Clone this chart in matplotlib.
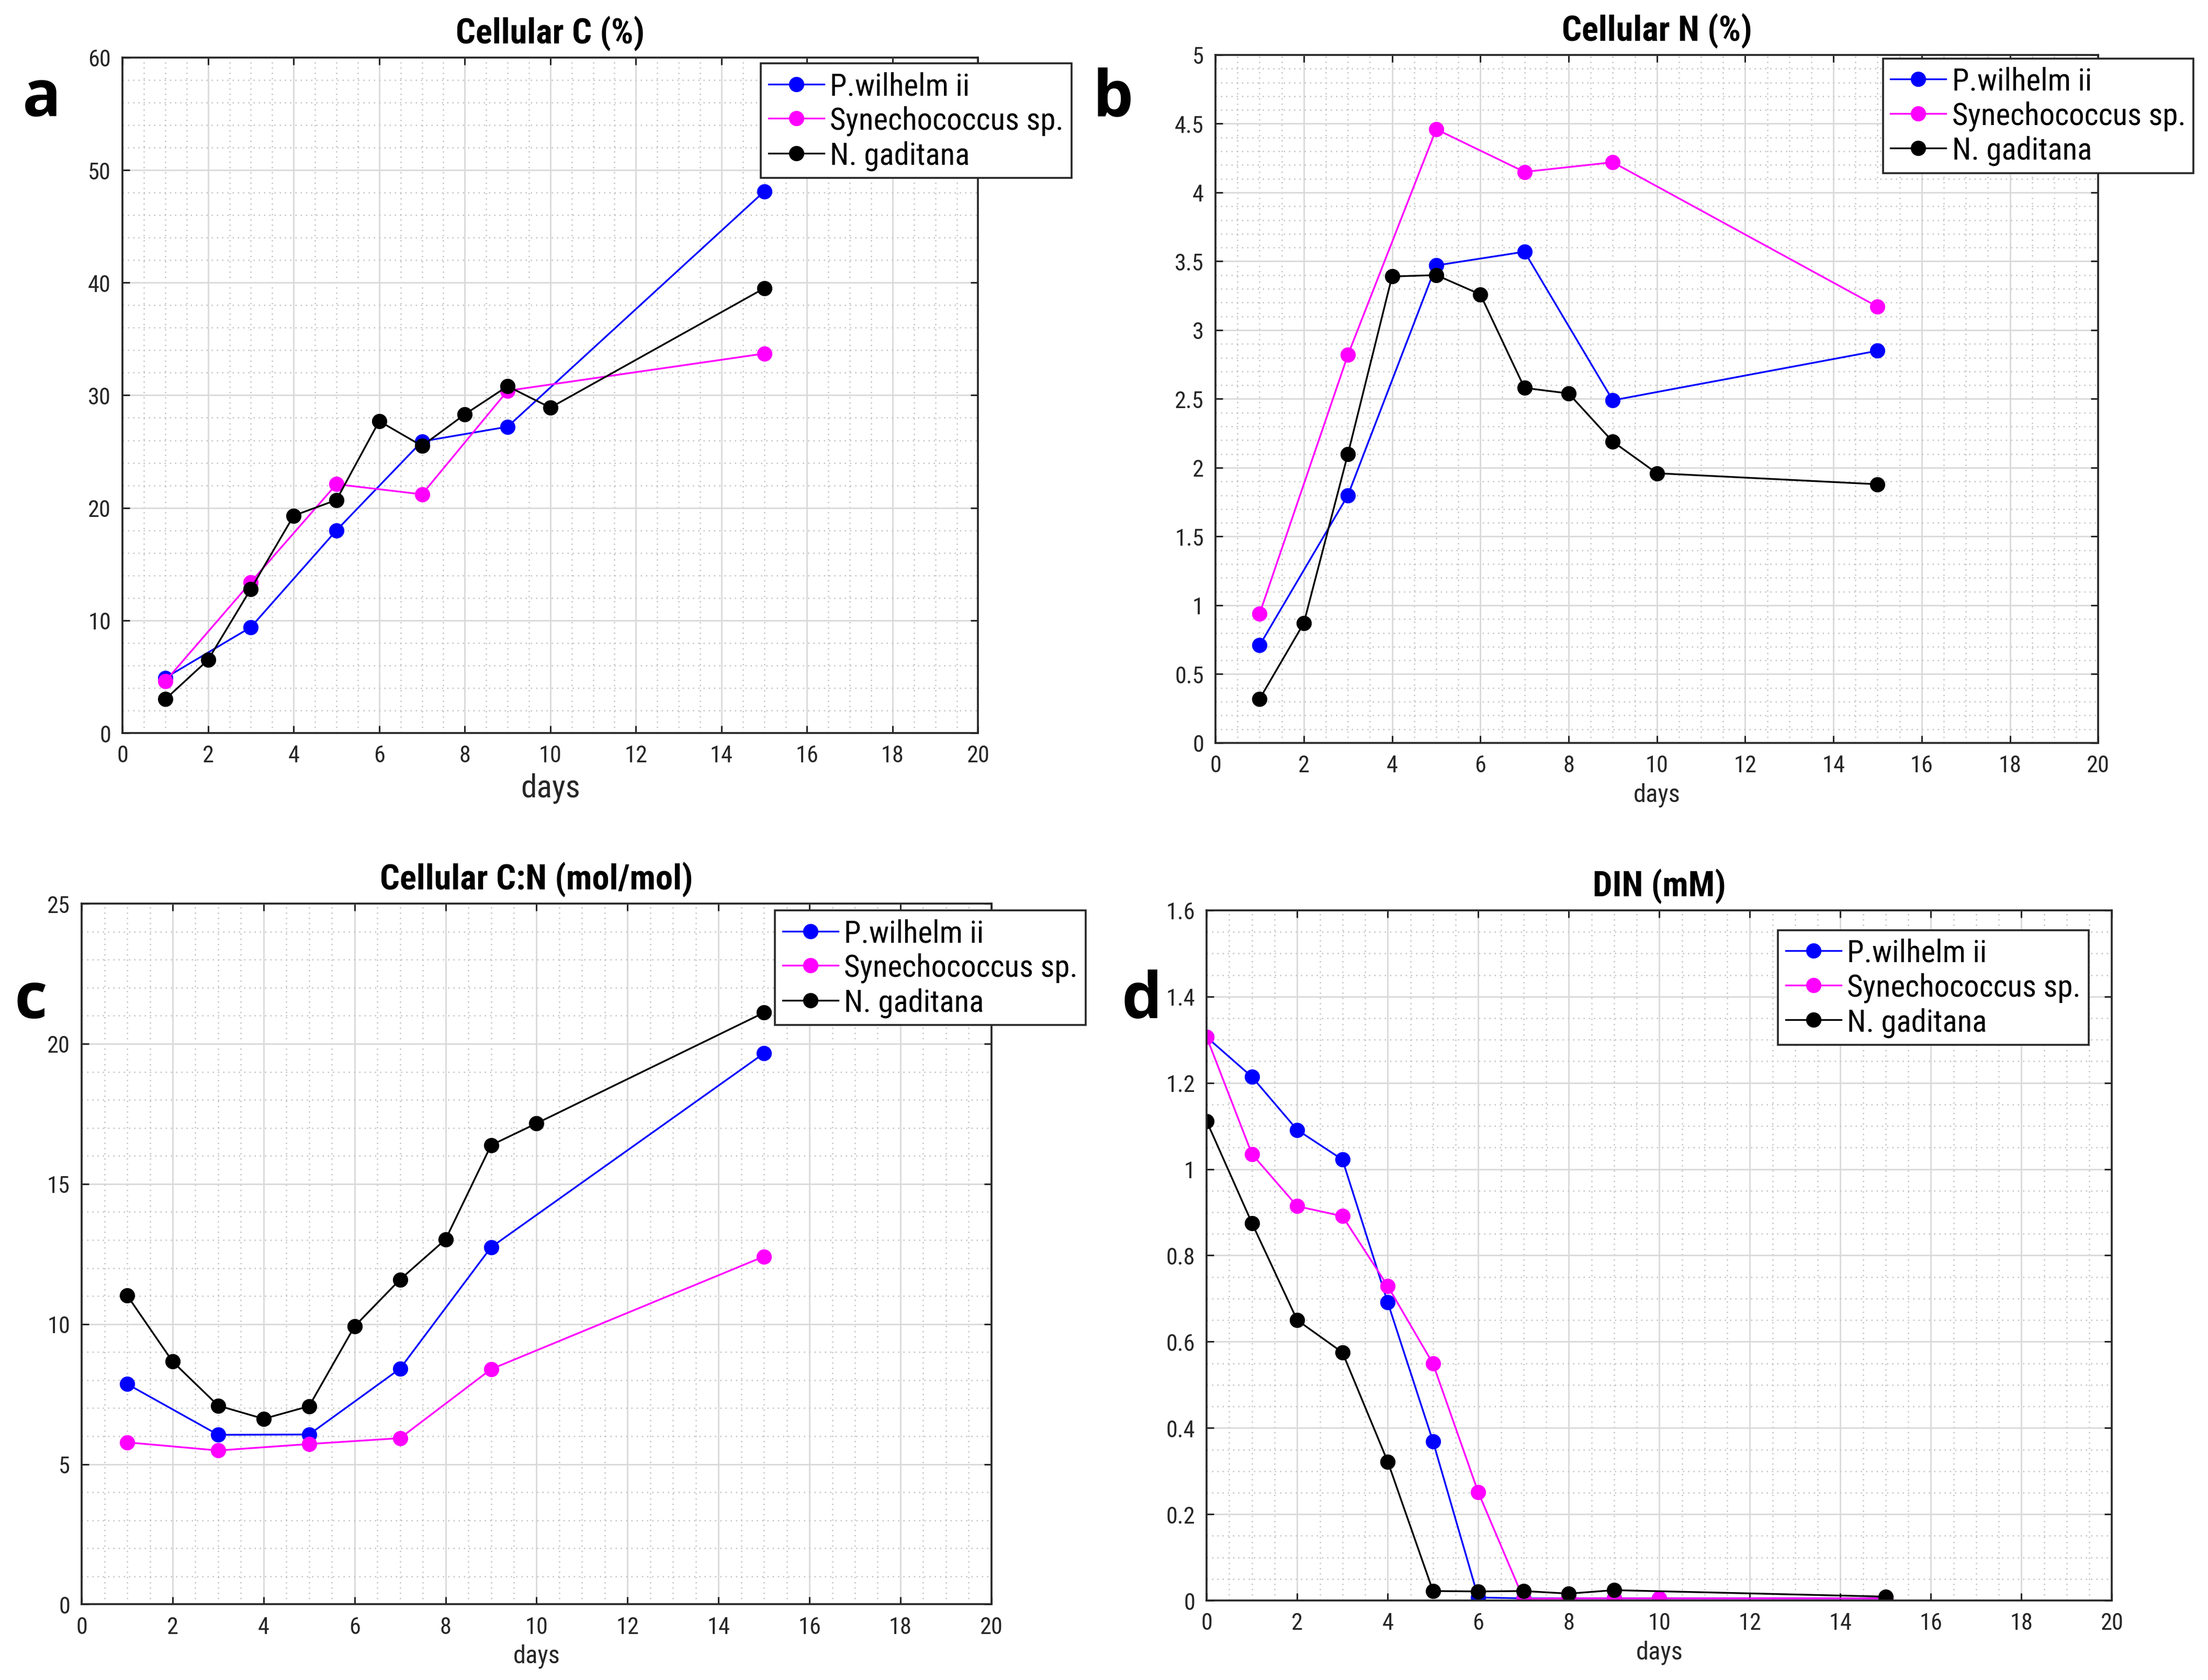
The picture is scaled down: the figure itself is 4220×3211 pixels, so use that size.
#!/usr/bin/env python3
# Four-panel growth chart: cellular C, N, C:N and DIN over days.
import os
import matplotlib
matplotlib.use('Agg')
import matplotlib.pyplot as plt
from matplotlib import font_manager as fm
from matplotlib.textpath import TextPath
from matplotlib.ticker import MultipleLocator

# series names and colours
names = ['P.wilhelm ii', 'Synechococcus sp.', 'N. gaditana']
colors = ['#0000ff', '#ff00ff', '#000000']

# panel a: cellular C (%)
c_days_pw = [1, 3, 5, 7, 9, 15]
c_pw = [4.9, 9.4, 18.0, 25.9, 27.2, 48.1]
c_days_sy = [1, 3, 5, 7, 9, 15]
c_sy = [4.6, 13.4, 22.1, 21.2, 30.4, 33.7]
c_days_ng = [1, 2, 3, 4, 5, 6, 7, 8, 9, 10, 15]
c_ng = [3.0, 6.5, 12.8, 19.3, 20.7, 27.7, 25.5, 28.3, 30.8, 28.9, 39.5]

# panel b: cellular N (%)
n_days_pw = [1, 3, 5, 7, 9, 15]
n_pw = [0.71, 1.80, 3.47, 3.57, 2.49, 2.85]
n_days_sy = [1, 3, 5, 7, 9, 15]
n_sy = [0.94, 2.82, 4.46, 4.15, 4.22, 3.17]
n_days_ng = [1, 2, 3, 4, 5, 6, 7, 8, 9, 10, 15]
n_ng = [0.32, 0.87, 2.10, 3.39, 3.40, 3.26, 2.58, 2.54, 2.19, 1.96, 1.88]

# panel c: cellular C:N (mol/mol)
cn_days_pw = [1, 3, 5, 7, 9, 15]
cn_pw = [7.86, 6.05, 6.06, 8.41, 12.74, 19.66]
cn_days_sy = [1, 3, 5, 7, 9, 15]
cn_sy = [5.78, 5.49, 5.72, 5.93, 8.39, 12.41]
cn_days_ng = [1, 2, 3, 4, 5, 6, 7, 8, 9, 10, 15]
cn_ng = [11.02, 8.66, 7.09, 6.62, 7.07, 9.92, 11.59, 13.02, 16.38, 17.16, 21.11]

# panel d: DIN (mM)
din_days_pw = [0, 1, 2, 3, 4, 5, 6, 7, 8, 9, 10, 15]
din_pw = [1.306, 1.214, 1.091, 1.022, 0.691, 0.369, 0.007, 0.005, 0.005, 0.005, 0.005, 0.005]
din_days_sy = [0, 1, 2, 3, 4, 5, 6, 7, 8, 9, 10, 15]
din_sy = [1.306, 1.035, 0.914, 0.891, 0.729, 0.549, 0.251, 0.004, 0.005, 0.005, 0.005, 0.005]
din_days_ng = [0, 1, 2, 3, 4, 5, 6, 7, 8, 9, 15]
din_ng = [1.111, 0.875, 0.650, 0.575, 0.322, 0.022, 0.021, 0.022, 0.016, 0.024, 0.009]

DPI = 200

# look for a narrow sans font (MATLAB export looks condensed), else plain Liberation Sans
font_files = {os.path.basename(f.fname).lower(): f.fname for f in fm.fontManager.ttflist}
candidates = [
    ('liberationsansnarrow-regular.ttf', 'liberationsansnarrow-bold.ttf'),
    ('robotocondensed-regular.ttf', 'robotocondensed-bold.ttf'),
    ('dejavusanscondensed.ttf', 'dejavusanscondensed-bold.ttf'),
    ('notosans-condensed.ttf', 'notosans-condensedbold.ttf'),
    ('liberationsans-regular.ttf', 'liberationsans-bold.ttf'),
]
fp_reg, fp_bold = fm.FontProperties(family='DejaVu Sans'), fm.FontProperties(family='DejaVu Sans', weight='bold')
for reg, bold in candidates:
    if reg in font_files:
        fp_reg = fm.FontProperties(fname=font_files[reg])
        fp_bold = fm.FontProperties(fname=font_files.get(bold, font_files[reg]))
        break


def fit_size(text, target_px, prop, cap):
    # font size (pt) that makes text about target_px wide, never above cap
    w = TextPath((0, 0), text, size=10, prop=prop).get_extents().width * DPI / 72
    return min(cap, 10 * target_px / w)


fp_leg = fp_reg.copy()
fp_leg.set_size(fit_size('Synechococcus sp.', 440, fp_reg, 27))

fig = plt.figure(figsize=(21.1, 16.06), dpi=DPI)

panels = [
    dict(rect=[0.0555, 0.5635, 0.3875, 0.4020], title='Cellular C (%)', tw=384, ylim=(0, 60),
         ymaj=10, ymin=2, xlab=('days', 108), leg=(0.746, 0.991), label='a', lpos=(0.019, 0.941),
         data=[(c_days_pw, c_pw), (c_days_sy, c_sy), (c_days_ng, c_ng)]),
    dict(rect=[0.5505, 0.5576, 0.3998, 0.4094], title='Cellular N (%)', tw=384, ylim=(0, 5),
         ymaj=0.5, ymin=0.1, xlab=('days', 85), leg=(0.756, 0.995), label='b', lpos=(0.504, 0.941),
         data=[(n_days_pw, n_pw), (n_days_sy, n_sy), (n_days_ng, n_ng)]),
    dict(rect=[0.037, 0.045, 0.412, 0.417], title='Cellular C:N (mol/mol)', tw=639, ylim=(0, 25),
         ymaj=5, ymin=1, xlab=('days', 85), leg=(0.762, 0.99), label='c', lpos=(0.014, 0.404),
         data=[(cn_days_pw, cn_pw), (cn_days_sy, cn_sy), (cn_days_ng, cn_ng)]),
    dict(rect=[0.5465, 0.0473, 0.4100, 0.4107], title='DIN (mM)', tw=262, ylim=(0, 1.6),
         ymaj=0.2, ymin=0.05, xlab=('days', 85), leg=(0.631, 0.971), label='d', lpos=(0.517, 0.404),
         data=[(din_days_pw, din_pw), (din_days_sy, din_sy), (din_days_ng, din_ng)]),
]

for p in panels:
    ax = fig.add_axes(p['rect'])
    for (xs, ys), nm, col in zip(p['data'], names, colors):
        ax.plot(xs, ys, '-o', color=col, lw=1.2, ms=9.5, label=nm)
    ax.set_xlim(0, 20)
    ax.set_ylim(*p['ylim'])
    ax.xaxis.set_major_locator(MultipleLocator(2))
    ax.xaxis.set_minor_locator(MultipleLocator(0.5))
    ax.yaxis.set_major_locator(MultipleLocator(p['ymaj']))
    ax.yaxis.set_minor_locator(MultipleLocator(p['ymin']))
    ax.yaxis.set_major_formatter(plt.FuncFormatter(lambda v, pos: '%g' % round(v, 3)))
    ax.grid(True, which='major', color='#d9d9d9', lw=1.0)
    ax.grid(True, which='minor', color='#c4c4c4', lw=0.9, ls=(0, (1, 3)))
    ax.set_axisbelow(True)
    ax.tick_params(which='major', direction='in', top=True, right=True, length=5,
                   width=1.1, color='#262626', labelcolor='#262626', pad=8)
    ax.tick_params(which='minor', length=0, top=True, right=True)
    for lab in ax.get_xticklabels() + ax.get_yticklabels():
        lab.set_fontproperties(fp_reg)
        lab.set_fontsize(16)
    for s in ax.spines.values():
        s.set_color('#262626')
        s.set_linewidth(1.3)
    ax.set_title(p['title'], fontproperties=fp_bold,
                 fontsize=fit_size(p['title'], p['tw'], fp_bold, 24), pad=10)
    ax.set_xlabel(p['xlab'][0], fontproperties=fp_reg, color='#262626',
                  fontsize=fit_size('days', p['xlab'][1], fp_reg, 24))
    leg = ax.legend(loc='upper left', bbox_to_anchor=p['leg'], borderaxespad=0,
                    prop=fp_leg, fancybox=False, framealpha=1, edgecolor='#262626',
                    handlelength=1.8, handletextpad=0.2, borderpad=0.25, labelspacing=0.15)
    leg.get_frame().set_linewidth(1.3)
    fig.text(p['lpos'][0], p['lpos'][1], p['label'], fontsize=44, fontweight='bold',
             ha='center', va='center', family=['Open Sans', 'DejaVu Sans'])

fig.savefig('out.png', dpi=DPI)
